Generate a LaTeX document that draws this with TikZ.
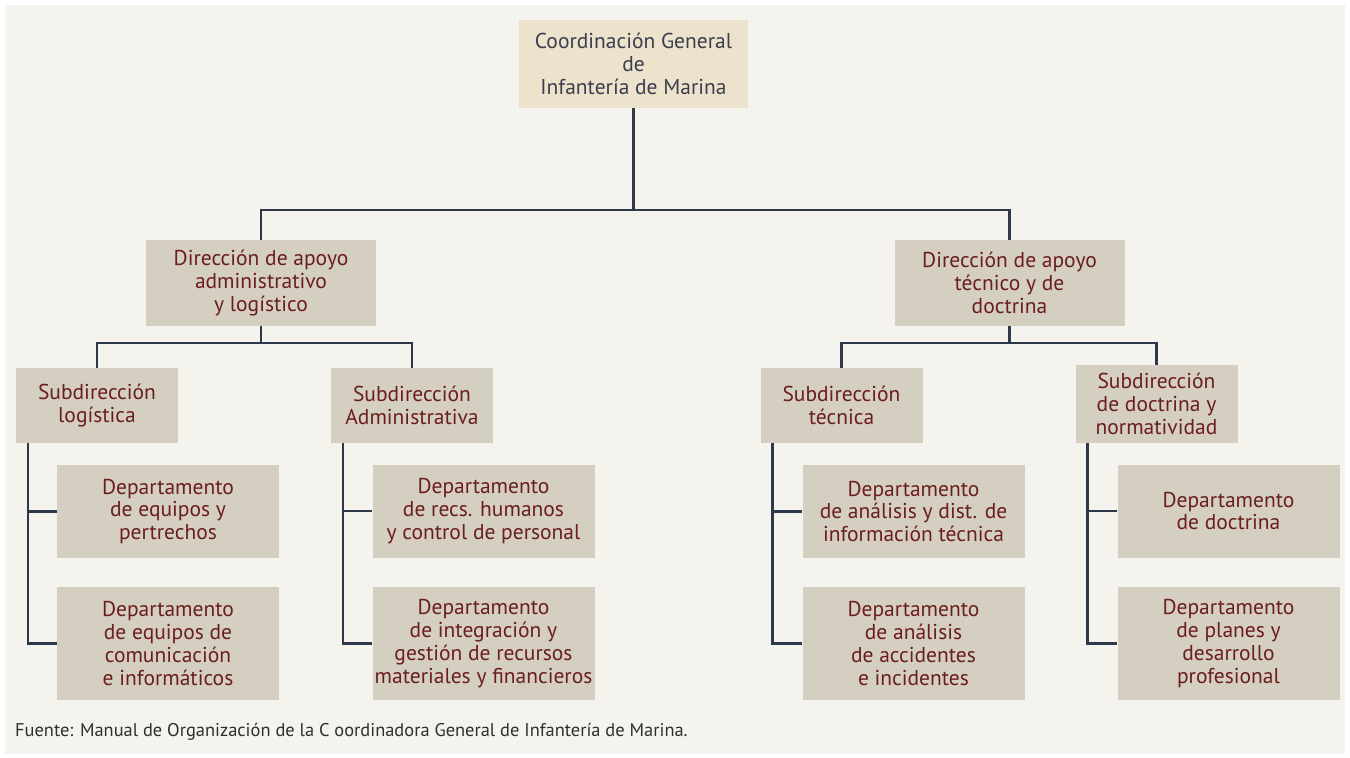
\documentclass[tikz,border=0pt]{standalone}
\usepackage{fontspec}
\setmainfont{PT Sans}
\usetikzlibrary{positioning}
\definecolor{cgPanel}{HTML}{F4F3EE}
\definecolor{cgTopFill}{HTML}{EDE3CD}
\definecolor{cgBoxFill}{HTML}{D4CFC0}
\definecolor{cgRed}{HTML}{6B1E1B}
\definecolor{cgSlate}{HTML}{3A3E4E}
\definecolor{cgLine}{HTML}{2D384B}
\definecolor{cgNote}{HTML}{2F2F2F}
\tikzset{
  cg box/.style={fill=cgBoxFill, text=cgRed, align=center, inner sep=0pt,
    font=\fontsize{21.5}{22.8}\selectfont},
  cg top/.style={cg box, fill=cgTopFill, text=cgSlate,
    minimum width=229, minimum height=88},
  cg dir/.style={cg box, minimum width=230, minimum height=86},
  cg sub/.style={cg box, minimum width=162, minimum height=75},
  cg dep/.style={cg box, minimum width=222, minimum height=93},
  cg deptall/.style={cg box, minimum width=222, minimum height=113},
  cg conn/.style={draw=cgLine, line width=2.4pt},
}
\begin{document}
\begin{tikzpicture}[x=1pt, y=-1pt]
  \useasboundingbox (0,0) rectangle (1350,758);
  \fill[white] (0,0) rectangle (1350,758);
  \fill[cgPanel] (5,5) rectangle (1345,754);

  % ===== Top =====
  \node[cg top] (coord) at (633.5,64) {Coordinación General\\de\\Infantería de Marina};

  % ===== Direcciones =====
  \node[cg dir] (dirAdm) at (261,283) {Dirección de apoyo\\administrativo\\y logístico};
  \node[cg dir] (dirTec) at (1009.5,283) {Dirección de apoyo\\técnico y de\\doctrina};

  % ===== Subdirecciones =====
  \node[cg sub] (subLog) at (97,405.5) {Subdirección\\logística};
  \node[cg sub] (subAdm) at (412,405.5) {Subdirección\\Administrativa};
  \node[cg sub] (subTec) at (841.5,405.5) {Subdirección\\técnica};
  \node[cg sub, minimum height=78] (subDoc) at (1156.5,404) {Subdirección\\de doctrina y\\normatividad};

  % ===== Departamentos =====
  \node[cg dep] (depEqu) at (168,511.5) {Departamento\\de equipos y\\pertrechos};
  \node[cg deptall] (depCom) at (168,643.5) {Departamento\\de equipos de\\comunicación\\e informáticos};
  \node[cg dep] (depRec) at (483.5,511) {Departamento\\de recs. humanos\\y control de personal};
  \node[cg deptall] (depInt) at (483.5,643.5) {Departamento\\de integración y\\gestión de recursos\\materiales y financieros};
  \node[cg dep] (depAna) at (913.5,511.5) {Departamento\\de análisis y dist. de\\información técnica};
  \node[cg deptall] (depAcc) at (913.5,643.5) {Departamento\\de análisis\\de accidentes\\e incidentes};
  \node[cg dep] (depDoc) at (1228.5,511) {Departamento\\de doctrina};
  \node[cg deptall] (depPla) at (1228.5,643.5) {Departamento\\de planes y\\desarrollo\\profesional};

  % ===== Connectors =====
  \coordinate (busTop) at (633.5,210);
  \coordinate (busAdm) at (261,343);
  \coordinate (busTec) at (1009.5,343);
  \draw[cg conn] (coord.south) -- (busTop);
  \draw[cg conn] (busTop) -| (dirAdm.north);
  \draw[cg conn] (busTop) -| (dirTec.north);
  \draw[cg conn] (dirAdm.south) -- (busAdm);
  \draw[cg conn] (busAdm) -| (subLog.north);
  \draw[cg conn] (busAdm) -| (subAdm.north);
  \draw[cg conn] (dirTec.south) -- (busTec);
  \draw[cg conn] (busTec) -| (subTec.north);
  \draw[cg conn] (busTec) -| (subDoc.north);

  \foreach \sub/\depa/\depb in {subLog/depEqu/depCom, subAdm/depRec/depInt,
                                 subTec/depAna/depAcc, subDoc/depDoc/depPla} {
    \draw[cg conn] ([xshift=12]\sub.south west) |- (\depa.west);
    \draw[cg conn] ([xshift=12]\sub.south west) |- (\depb.west);
  }

  % ===== Fuente =====
  \node[anchor=west, text=cgNote, inner sep=0pt, font=\fontsize{18.4}{20}\selectfont] (fuente)
    at (15,732) {Fuente: Manual de Organización de la C oordinadora General de Infantería de Marina.};
\end{tikzpicture}
\end{document}
